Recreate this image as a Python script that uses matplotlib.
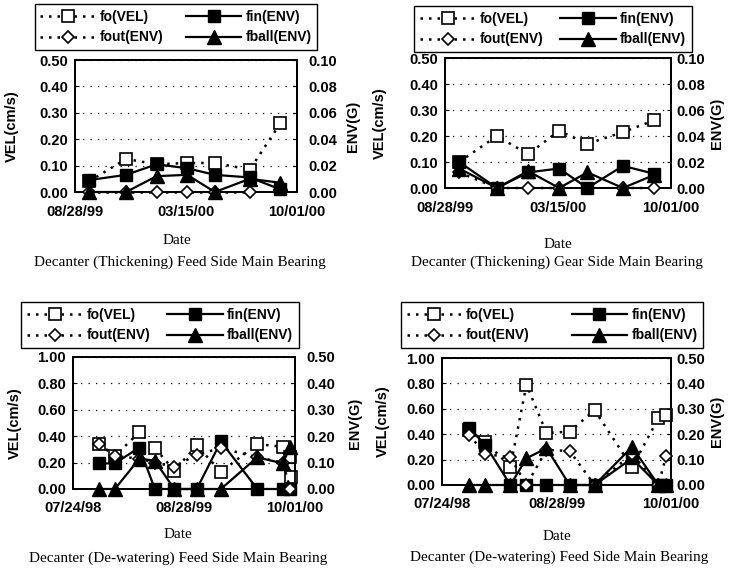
#!/usr/bin/env python3
"""Decanter bearing trend charts: fo(VEL) on left axis, envelope values on right axis."""

import matplotlib

matplotlib.use("Agg")
import matplotlib.pyplot as plt
import numpy as np

plt.rcParams["font.family"] = ["Liberation Sans", "DejaVu Sans"]

nan = np.nan

# x axes
thick_ticks = ["1999-08-28", "2000-03-15", "2000-10-01"]
thick_labels = ["08/28/99", "03/15/00", "10/01/00"]
dew_ticks = ["1998-07-24", "1999-08-28", "2000-10-01"]
dew_labels = ["07/24/98", "08/28/99", "10/01/00"]

series_names = ["fo(VEL)", "fin(ENV)", "fout(ENV)", "fball(ENV)"]

# Decanter (Thickening) Feed Side Main Bearing
dates_p1 = ["1999-09-22", "1999-11-28", "2000-01-22", "2000-03-17", "2000-05-06", "2000-07-08", "2000-09-01"]
fo_p1 = [0.04, 0.125, 0.105, 0.11, 0.11, 0.085, 0.26]
fin_p1 = [0.009, 0.013, 0.021, 0.018, 0.013, 0.011, 0.002]
fout_p1 = [0, 0, 0, 0, 0, 0, nan]
fball_p1 = [0, 0, 0.012, 0.013, 0, 0.010, 0.007]

# Decanter (Thickening) Gear Side Main Bearing
dates_p2 = ["1999-09-22", "1999-11-28", "2000-01-22", "2000-03-17", "2000-05-06", "2000-07-08", "2000-09-01"]
fo_p2 = [0.10, 0.20, 0.13, 0.22, 0.17, 0.215, 0.26]
fin_p2 = [0.02, 0, 0.012, 0.015, 0, 0.017, 0.011]
fout_p2 = [0.012, 0, 0, 0, nan, 0, 0]
fball_p2 = [0.015, 0, 0.013, 0, 0.012, 0, 0.010]

# Decanter (De-watering) Feed Side Main Bearing (left)
dates_p3 = ["1998-10-27", "1998-12-22", "1999-03-20", "1999-05-15", "1999-07-24", "1999-10-13",
            "2000-01-08", "2000-05-18", "2000-08-18", "2000-09-14", "2000-09-17"]
fo_p3 = [0.34, 0.25, 0.43, 0.31, 0.14, 0.33, 0.13, 0.34, 0.32, 0.245, 0.09]
fin_p3 = [0.097, 0.097, 0.157, 0, 0, 0, 0.18, 0, 0, 0, nan]
fout_p3 = [0.17, 0.125, 0.115, 0.10, 0.085, 0.13, 0.155, 0.12, 0.10, 0, nan]
fball_p3 = [0, 0, 0.115, 0.107, 0, 0, 0, 0.12, 0.097, 0.16, nan]

# Decanter (De-watering) Feed Side Main Bearing (right)
dates_p4 = ["1998-10-27", "1998-12-22", "1999-03-20", "1999-05-15", "1999-07-24", "1999-10-13",
            "2000-01-08", "2000-05-18", "2000-08-18", "2000-09-14"]
fo_p4 = [0.43, 0.34, 0.145, 0.79, 0.41, 0.42, 0.59, 0.14, 0.525, 0.555]
fin_p4 = [0.224, 0.158, 0, 0, 0, 0, 0, 0.105, 0, 0]
fout_p4 = [0.197, 0.122, 0.109, 0, 0.138, 0.134, 0, 0.122, 0, 0.114]
fball_p4 = [0, 0, 0, 0.105, 0.145, 0, 0, 0.15, 0, 0]

W, H = 730, 568
fig = plt.figure(figsize=(W / 100, H / 100), dpi=100)


def fx(px):
    return px / W


def fy(py):
    return 1 - py / H


DOT = (0, (1, 2.4))


def draw_panel(box, dates, fo, fin, fout, fball, ticks, tick_labels, vel_max, env_max,
               legend_center, col_space, vel_x, env_x, right_pad, date_xy, caption_xy, caption):
    l, t, r, b = box
    ax = fig.add_axes([fx(l), fy(b), fx(r - l), (b - t) / H])
    ax2 = ax.twinx()
    d = np.array(dates, dtype="datetime64[D]")
    tk = np.array(ticks, dtype="datetime64[D]")

    h_fo, = ax.plot(d, fo, linestyle=DOT, color="black", lw=1.8, marker="s", ms=8.5,
                    mfc="white", mec="black", mew=1.2, clip_on=False, zorder=3)
    h_fin, = ax2.plot(d, fin, linestyle="-", color="black", lw=1.6, marker="s", ms=8.5,
                      mfc="black", mec="black", clip_on=False, zorder=3)
    h_fout, = ax2.plot(d, fout, linestyle=DOT, color="black", lw=1.8, marker="D", ms=6.5,
                       mfc="white", mec="black", mew=1.2, clip_on=False, zorder=4)
    h_fball, = ax2.plot(d, fball, linestyle="-", color="black", lw=1.6, marker="^", ms=9.5,
                        mfc="black", mec="black", clip_on=False, zorder=5)

    ax.set_xlim(tk[0], tk[-1])
    ax.set_xticks(tk)
    ax.set_xticklabels(tick_labels, fontweight="bold")
    ax.set_ylim(0, vel_max)
    ax.set_yticks(np.linspace(0, vel_max, 6))
    ax.set_yticklabels([f"{v:.2f}" for v in np.linspace(0, vel_max, 6)], fontweight="bold")
    ax2.set_ylim(0, env_max)
    ax2.set_yticks(np.linspace(0, env_max, 6))
    ax2.set_yticklabels([f"{v:.2f}" for v in np.linspace(0, env_max, 6)], fontweight="bold")

    ax.yaxis.grid(True, linestyle=(0, (1, 5)), color="black", lw=0.9)
    ax.tick_params(axis="x", length=0, pad=9, labelsize=10.5)
    ax.tick_params(axis="y", direction="in", length=3, pad=5, labelsize=10.5)
    ax2.tick_params(axis="y", direction="in", length=3, pad=right_pad, labelsize=10.5)
    for a in (ax, ax2):
        for s in a.spines.values():
            s.set_linewidth(1.3)

    cy = fy((t + b) / 2)
    fig.text(fx(vel_x), cy, "VEL(cm/s)", rotation=90, ha="center", va="center",
             fontsize=10.5, fontweight="bold")
    fig.text(fx(env_x), cy, "ENV(G)", rotation=90, ha="center", va="center",
             fontsize=10.5, fontweight="bold")
    fig.text(fx(date_xy[0]), fy(date_xy[1]), "Date", ha="center", va="center",
             family="Liberation Serif", fontsize=11)
    fig.text(fx(caption_xy[0]), fy(caption_xy[1]), caption, ha="center", va="center",
             family="Liberation Serif", fontsize=11)

    leg = fig.legend([h_fo, h_fout, h_fin, h_fball],
                     [series_names[0], series_names[2], series_names[1], series_names[3]],
                     ncol=2, loc="center",
                     bbox_to_anchor=(fx(legend_center[0]), fy(legend_center[1])),
                     borderaxespad=0, prop={"size": 10, "weight": "bold"},
                     handlelength=4.0, handletextpad=0.3, columnspacing=col_space,
                     labelspacing=0.5, borderpad=0.4, fancybox=False, framealpha=1,
                     edgecolor="black")
    leg.get_frame().set_linewidth(1.0)


draw_panel((75, 60, 297, 192), dates_p1, fo_p1, fin_p1, fout_p1, fball_p1,
           thick_ticks, thick_labels, 0.5, 0.1, (176, 27), 1.6, 12, 353, 8,
           (177, 240), (180, 262), "Decanter (Thickening) Feed Side Main Bearing")
draw_panel((445, 58, 671, 188), dates_p2, fo_p2, fin_p2, fout_p2, fball_p2,
           thick_ticks, thick_labels, 0.5, 0.1, (553, 29), 1.2, 380, 717, 4,
           (558, 245), (557, 262), "Decanter (Thickening) Gear Side Main Bearing")
draw_panel((73, 357, 295, 489), dates_p3, fo_p3, fin_p3, fout_p3, fball_p3,
           dew_ticks, dew_labels, 1.0, 0.5, (160, 325), 1.2, 15, 355, 8,
           (178, 534), (178, 558), "Decanter (De-watering) Feed Side Main Bearing")
draw_panel((442, 358, 671, 485), dates_p4, fo_p4, fin_p4, fout_p4, fball_p4,
           dew_ticks, dew_labels, 1.0, 0.5, (552, 325), 3.0, 383, 717, 4,
           (557, 536), (559, 557), "Decanter (De-watering) Feed Side Main Bearing")

fig.savefig("out.png", dpi=100)
plt.close(fig)
